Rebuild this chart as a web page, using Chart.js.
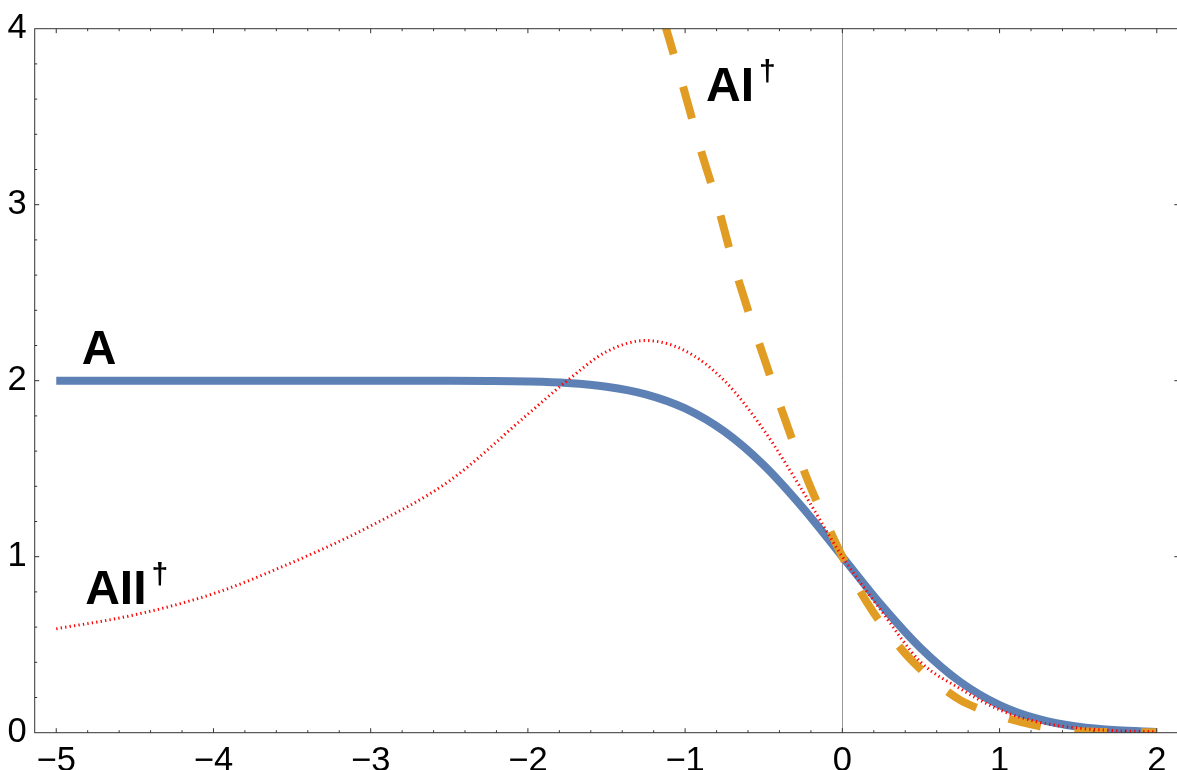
<!DOCTYPE html>
<html lang="en">
<head>
    <meta charset="UTF-8">
    <title>A, AI†, AII†</title>
    <script src="https://cdn.jsdelivr.net/npm/chart.js"></script>
    <style>
        html, body {
            margin: 0;
            padding: 0;
            background: white;
            overflow: hidden;
        }
        #wrap {
            position: relative;
            width: 1180px;
            height: 770px;
        }
    </style>
</head>
<body>
<div id="wrap"><canvas id="chart"></canvas></div>
<script>
    // curve A
    const xA = [-5, -4, -3, -2.5, -2.25, -2, -1.75, -1.5, -1.25, -1, -0.75, -0.5, -0.25, 0, 0.25, 0.5, 0.75, 1, 1.25, 1.5, 1.75, 2];
    const yA = [2, 2, 2, 1.9996, 1.9985, 1.9953, 1.9867, 1.9661, 1.9229, 1.8427, 1.7112, 1.5205, 1.2763, 1, 0.7237, 0.4795, 0.2888, 0.1573, 0.0771, 0.0339, 0.0133, 0.0047];

    // curve AI† (dashed)
    const xAI = [-1.15, -1, -0.9, -0.8, -0.7, -0.6, -0.5, -0.4, -0.3, -0.2, -0.1, 0, 0.1, 0.2, 0.3, 0.4, 0.5, 0.6, 0.75, 0.9, 1, 1.2, 1.4, 1.6, 1.8, 2];
    const yAI = [4.09, 3.63, 3.31, 3.02, 2.69, 2.40, 2.135, 1.87, 1.62, 1.39, 1.19, 1.0, 0.824, 0.68, 0.56, 0.45, 0.359, 0.28, 0.185, 0.126, 0.095, 0.047, 0.016, 0.006, 0.003, 0.002];

    // curve AII† (dotted)
    const xAII = [-5, -4.5, -4, -3.5, -3, -2.5, -2, -1.75, -1.5, -1.25, -1, -0.75, -0.5, -0.25, 0, 0.25, 0.5, 0.75, 1, 1.25, 1.5, 1.75, 2];
    const yAII = [0.59, 0.67, 0.79, 0.967, 1.175, 1.43, 1.81, 2.0, 2.165, 2.228, 2.17, 2.0, 1.72, 1.37, 1.0, 0.69, 0.40, 0.25, 0.13, 0.06, 0.026, 0.011, 0.005];

    const xTicks = [-5, -4, -3, -2, -1, 0, 1, 2];
    const yTicks = [0, 1, 2, 3, 4];

    // text labels placed in data coordinates
    const curveLabels = [
        {text: 'A', sup: '', x: -4.838, y: 2.093},
        {text: 'AII', sup: '\u2020', x: -4.816, y: 0.731},
        {text: 'AI', sup: '\u2020', x: -0.867, y: 3.591}
    ];

    const toPoints = (xs, ys) => xs.map((x, i) => ({x: x, y: ys[i]}));
    const fmt = v => (v < 0 ? '\u2212' + Math.abs(v) : String(v));

    const frameColor = '#333';

    const framePlugin = {
        id: 'frame',
        beforeDatasetsDraw(chart) {
            // vertical axis at x = 0
            const {ctx, chartArea, scales} = chart;
            const x0 = Math.round(scales.x.getPixelForValue(0)) + 0.5;
            ctx.save();
            ctx.strokeStyle = '#999';
            ctx.lineWidth = 1;
            ctx.beginPath();
            ctx.moveTo(x0, chartArea.top);
            ctx.lineTo(x0, chartArea.bottom);
            ctx.stroke();
            ctx.restore();
        },
        afterDatasetsDraw(chart) {
            const {ctx, chartArea, scales} = chart;
            const {left, right, top, bottom} = chartArea;
            ctx.save();
            ctx.strokeStyle = frameColor;
            ctx.lineWidth = 1;
            ctx.strokeRect(left, top, right - left, bottom - top);

            ctx.beginPath();
            // x ticks, bottom and top, every 0.2
            for (let k = -25; k <= 10; k++) {
                const px = scales.x.getPixelForValue(k / 5);
                if (px < left || px > right) continue;
                const len = k % 5 === 0 ? 4.5 : 2.5;
                ctx.moveTo(px, bottom);
                ctx.lineTo(px, bottom - len);
                ctx.moveTo(px, top);
                ctx.lineTo(px, top + len);
            }
            // y ticks, left every 0.2, right majors only
            for (let k = 1; k < 20; k++) {
                const py = scales.y.getPixelForValue(k / 5);
                const major = k % 5 === 0;
                const len = major ? 4.5 : 2.5;
                ctx.moveTo(left, py);
                ctx.lineTo(left + len, py);
                if (major) {
                    ctx.moveTo(right, py);
                    ctx.lineTo(right - len, py);
                }
            }
            ctx.stroke();

            // curve labels
            ctx.fillStyle = '#000';
            ctx.textBaseline = 'alphabetic';
            ctx.textAlign = 'left';
            curveLabels.forEach(l => {
                const px = scales.x.getPixelForValue(l.x);
                const py = scales.y.getPixelForValue(l.y);
                ctx.font = 'bold 48px "Liberation Sans", Arial, sans-serif';
                ctx.fillText(l.text, px, py);
                if (l.sup) {
                    const w = ctx.measureText(l.text).width;
                    ctx.font = 'bold 30px "Liberation Sans", Arial, sans-serif';
                    ctx.fillText(l.sup, px + w + 5, py - 20);
                }
            });
            ctx.restore();
        }
    };

    const tickFont = {family: '"Liberation Sans", Arial, sans-serif', size: 34.5};

    new Chart(document.getElementById('chart'), {
        type: 'scatter',
        data: {
            datasets: [
                {
                    label: 'A',
                    data: toPoints(xA, yA),
                    showLine: true,
                    borderColor: '#5E81B5',
                    borderWidth: 8,
                    pointRadius: 0,
                    cubicInterpolationMode: 'monotone',
                    clip: 0,
                    order: 3
                },
                {
                    label: 'AI\u2020',
                    data: toPoints(xAI, yAI),
                    showLine: true,
                    borderColor: '#E19C24',
                    borderWidth: 8,
                    borderDash: [33, 34],
                    borderDashOffset: 57,
                    borderCapStyle: 'butt',
                    pointRadius: 0,
                    cubicInterpolationMode: 'monotone',
                    clip: 0,
                    order: 2
                },
                {
                    label: 'AII\u2020',
                    data: toPoints(xAII, yAII),
                    showLine: true,
                    borderColor: '#FF0000',
                    borderWidth: 3,
                    borderDash: [1.3, 3.2],
                    borderCapStyle: 'butt',
                    pointRadius: 0,
                    cubicInterpolationMode: 'monotone',
                    clip: 0,
                    order: 1
                }
            ]
        },
        options: {
            responsive: true,
            maintainAspectRatio: false,
            animation: false,
            layout: {padding: {top: 24.7, right: 1.2, left: 0, bottom: 0}},
            plugins: {
                legend: {display: false},
                tooltip: {enabled: false}
            },
            scales: {
                x: {
                    type: 'linear',
                    min: -5.137,
                    max: 2.14,
                    afterBuildTicks: s => { s.ticks = xTicks.map(v => ({value: v})); },
                    afterFit: s => { s.height = 37.3; },
                    grid: {display: false, drawTicks: false},
                    border: {display: false},
                    ticks: {
                        font: tickFont,
                        color: '#000',
                        padding: 8,
                        maxRotation: 0,
                        autoSkip: false,
                        callback: v => fmt(v)
                    }
                },
                y: {
                    type: 'linear',
                    min: 0,
                    max: 4,
                    afterBuildTicks: s => { s.ticks = yTicks.map(v => ({value: v})); },
                    afterFit: s => { s.width = 34.7; },
                    grid: {display: false, drawTicks: false},
                    border: {display: false},
                    ticks: {
                        font: tickFont,
                        color: '#000',
                        padding: 8,
                        autoSkip: false,
                        callback: v => fmt(v)
                    }
                }
            }
        },
        plugins: [framePlugin]
    });
</script>
</body>
</html>
